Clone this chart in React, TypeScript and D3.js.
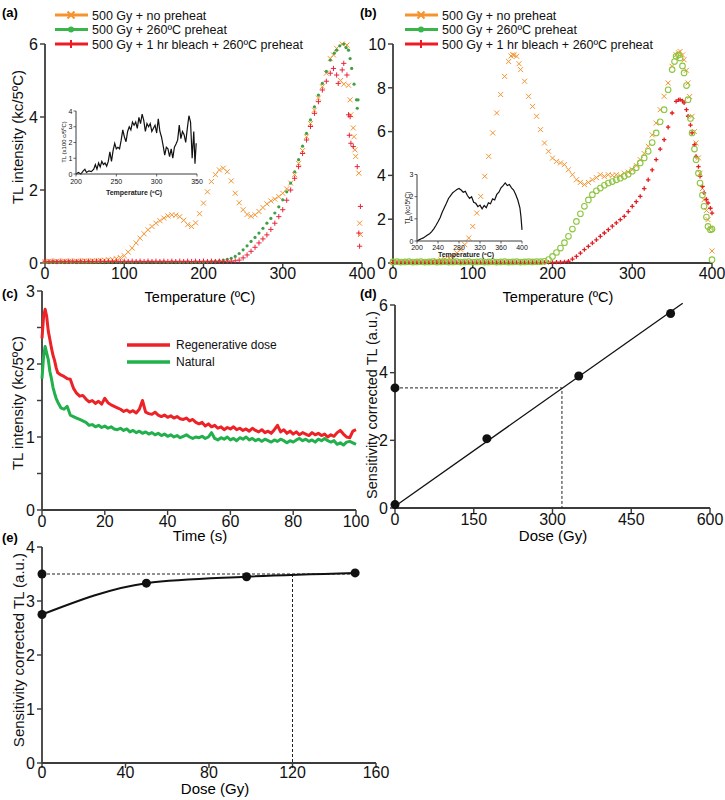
import React from "react";
import * as d3 from "d3";

type Pt = [number, number];

const FONT = "'Liberation Sans', Arial, Helvetica, sans-serif";
const AXIS = "#3c3c3c";
const ORANGE = "#f5932f";
const GREEN = "#3fa046";
const LIGHT_GREEN = "#8cc63f";
const RED = "#e8253a";

// ---- (a) glow curves: [temperature ºC, TL kc/5ºC]
const aNoPreheat: Pt[] = [
  [0, 0.04], [5, 0.05], [10, 0.04], [15, 0.05], [20, 0.04], [25, 0.05], [30, 0.05], [35, 0.04], [40, 0.05], [45, 0.05],
  [50, 0.06], [55, 0.05], [60, 0.06], [65, 0.06], [70, 0.07], [75, 0.08], [80, 0.09], [85, 0.1], [90, 0.12], [95, 0.15],
  [100, 0.2], [105, 0.3], [110, 0.41], [115, 0.55], [120, 0.68], [125, 0.8], [130, 0.91], [135, 1.0], [140, 1.09], [145, 1.16],
  [150, 1.23], [155, 1.29], [160, 1.32], [165, 1.31], [170, 1.27], [175, 1.17], [180, 1.05], [185, 1.0], [190, 1.1], [195, 1.35],
  [200, 1.64], [205, 1.95], [210, 2.23], [215, 2.42], [220, 2.55], [225, 2.6], [230, 2.5], [235, 2.25], [240, 1.91], [245, 1.65],
  [250, 1.46], [255, 1.33], [260, 1.28], [265, 1.32], [270, 1.41], [275, 1.52], [280, 1.62], [285, 1.7], [290, 1.75], [295, 1.82],
  [300, 1.91], [305, 2.03], [310, 2.19], [315, 2.42], [320, 2.73], [325, 3.08], [330, 3.46], [335, 3.82], [340, 4.19], [345, 4.52],
  [350, 4.83], [355, 5.2], [360, 5.6], [364, 5.7], [368, 5.88], [373, 5.0], [375, 6.0], [377, 4.9], [381, 5.97], [383, 4.87],
  [385, 4.47], [386, 4.06], [389, 3.7], [390, 3.46], [391, 3.1], [392, 2.92], [396, 2.46], [397, 1.09], [398, 0.78],
];
const aPreheat: Pt[] = [
  [0, 0.03], [5, 0.02], [10, 0.03], [15, 0.03], [20, 0.02], [25, 0.03], [30, 0.03], [35, 0.02], [40, 0.03], [45, 0.03],
  [50, 0.02], [55, 0.03], [60, 0.03], [65, 0.02], [70, 0.03], [75, 0.03], [80, 0.02], [85, 0.03], [90, 0.03], [95, 0.02],
  [100, 0.03], [105, 0.03], [110, 0.02], [115, 0.03], [120, 0.03], [125, 0.02], [130, 0.03], [135, 0.03], [140, 0.02], [145, 0.03],
  [150, 0.03], [155, 0.02], [160, 0.03], [165, 0.03], [170, 0.02], [175, 0.03], [180, 0.03], [185, 0.02], [190, 0.03], [195, 0.03],
  [200, 0.03], [205, 0.04], [210, 0.04], [215, 0.05], [220, 0.06], [225, 0.08], [230, 0.1], [235, 0.13], [240, 0.18], [245, 0.26],
  [250, 0.36], [255, 0.47], [260, 0.59], [265, 0.7], [270, 0.82], [275, 0.95], [280, 1.09], [285, 1.22], [290, 1.37], [295, 1.54],
  [300, 1.73], [305, 1.95], [310, 2.19], [315, 2.5], [320, 2.83], [325, 3.2], [330, 3.55], [335, 3.92], [340, 4.28], [345, 4.6],
  [350, 4.92], [355, 5.25], [360, 5.56], [365, 5.75], [368, 5.83], [372, 5.95], [377, 6.0], [380, 5.9], [383, 5.83], [385, 5.6],
  [387, 5.33], [390, 4.9], [393, 4.47], [394, 4.24], [395, 4.47],
];
const aBleach: Pt[] = [
  [0, 0.05], [5, 0.04], [10, 0.05], [15, 0.04], [20, 0.05], [25, 0.04], [30, 0.05], [35, 0.05], [40, 0.04], [45, 0.05],
  [50, 0.04], [55, 0.05], [60, 0.04], [65, 0.05], [70, 0.05], [75, 0.04], [80, 0.05], [85, 0.04], [90, 0.05], [95, 0.04],
  [100, 0.05], [105, 0.04], [110, 0.05], [115, 0.04], [120, 0.05], [125, 0.04], [130, 0.05], [135, 0.04], [140, 0.05], [145, 0.04],
  [150, 0.05], [155, 0.04], [160, 0.05], [165, 0.04], [170, 0.05], [175, 0.04], [180, 0.05], [185, 0.04], [190, 0.05], [195, 0.04],
  [200, 0.05], [205, 0.04], [210, 0.05], [215, 0.04], [220, 0.05], [225, 0.04], [230, 0.05], [235, 0.05], [240, 0.06], [245, 0.08],
  [250, 0.14], [255, 0.22], [260, 0.32], [265, 0.43], [270, 0.55], [275, 0.66], [280, 0.77], [285, 0.92], [290, 1.09], [295, 1.27],
  [300, 1.46], [305, 1.72], [310, 2.0], [315, 2.32], [320, 2.64], [325, 3.0], [330, 3.37], [335, 3.74], [340, 4.1], [345, 4.42],
  [350, 4.74], [355, 4.98], [360, 5.2], [364, 5.33], [368, 5.15], [370, 4.92], [375, 5.29], [377, 5.47], [381, 5.15], [383, 4.06],
  [384, 3.5], [385, 4.01], [386, 3.28], [389, 3.19], [394, 2.64], [396, 0.82], [397, 0.46], [398, 1.55],
];
// (a) inset: difference curve, TL x100 c/5ºC
const aInset: Pt[] = [
  [200, 0], [203, 0.1], [206, 0], [209, 0.2], [211, 0.3], [213, 0.1], [216, 0.2], [219, 0.15], [222, 0.3], [224, 0.6],
  [226, 0.3], [228, 0.7], [230, 0.45], [232, 0.8], [234, 0.6], [236, 0.7], [238, 0.5], [240, 0.8], [242, 1.4], [244, 0.8],
  [246, 1.5], [248, 1.95], [250, 1.6], [252, 1.7], [254, 1.6], [256, 2.15], [258, 2.8], [260, 2.35], [262, 2.05], [264, 2.7],
  [266, 3.0], [268, 2.8], [270, 3.3], [272, 3.1], [274, 3.3], [276, 2.9], [278, 3.6], [280, 3.2], [282, 3.8], [284, 3.4],
  [286, 2.7], [288, 3.2], [290, 3.0], [292, 3.2], [294, 2.7], [296, 2.9], [298, 3.1], [300, 2.6], [302, 3.5], [304, 2.7],
  [306, 2.35], [308, 1.8], [310, 1.2], [312, 1.7], [314, 1.6], [316, 1.1], [318, 1.6], [320, 1.0], [322, 1.7], [324, 1.9],
  [326, 2.15], [328, 3.1], [330, 2.25], [332, 2.7], [334, 2.5], [336, 2.0], [338, 2.9], [340, 3.7], [342, 3.3], [344, 1.0],
  [346, 2.7], [347.5, 0.65], [349, 1.95],
];

// ---- (b) glow curves
const bNoPreheat: Pt[] = [
  [0, 0.05], [5, 0.04], [10, 0.05], [15, 0.04], [20, 0.05], [25, 0.05], [30, 0.06], [35, 0.05], [40, 0.06], [45, 0.07],
  [50, 0.08], [55, 0.1], [60, 0.14], [65, 0.18], [70, 0.23], [75, 0.32], [80, 0.46], [85, 0.62], [90, 0.84], [95, 1.14],
  [100, 1.67], [105, 2.28], [110, 3.04], [115, 3.96], [120, 4.87], [125, 5.94], [130, 6.85], [135, 7.69], [140, 8.52], [145, 9.2],
  [148, 9.45], [150, 9.51], [152, 9.5], [155, 9.44], [158, 9.1], [160, 8.83], [165, 8.3], [170, 7.61], [175, 7.15], [180, 6.7],
  [185, 6.09], [190, 5.48], [195, 5.1], [200, 4.79], [205, 4.64], [210, 4.57], [215, 4.49], [220, 4.26], [225, 4.03], [230, 3.8],
  [235, 3.68], [240, 3.58], [245, 3.68], [250, 3.8], [255, 3.9], [260, 4.03], [265, 3.95], [270, 4.03], [275, 4.0], [280, 4.03],
  [285, 3.98], [290, 4.1], [295, 4.15], [300, 4.26], [305, 4.45], [310, 4.72], [315, 5.0], [320, 5.33], [325, 5.85], [330, 6.39],
  [335, 7.0], [340, 7.61], [345, 8.22], [350, 8.98], [355, 9.51], [358, 9.6], [360, 9.66], [363, 9.5], [365, 9.28], [368, 8.8],
  [370, 8.22], [372, 7.6], [375, 6.7], [378, 6.0], [380, 5.48], [383, 4.8], [385, 4.1], [388, 3.4], [390, 2.89], [393, 2.4],
  [395, 1.98], [398, 1.6], [400, 0.55],
];
const bPreheat: Pt[] = [
  [0, 0.05], [5, 0.06], [10, 0.04], [15, 0.05], [20, 0.06], [25, 0.04], [30, 0.05], [35, 0.06], [40, 0.04], [45, 0.05],
  [50, 0.06], [55, 0.04], [60, 0.05], [65, 0.06], [70, 0.04], [75, 0.05], [80, 0.06], [85, 0.04], [90, 0.05], [95, 0.06],
  [100, 0.04], [105, 0.05], [110, 0.06], [115, 0.04], [120, 0.05], [125, 0.06], [130, 0.04], [135, 0.05], [140, 0.06], [145, 0.04],
  [150, 0.05], [155, 0.06], [160, 0.04], [165, 0.05], [170, 0.06], [175, 0.05], [180, 0.06], [185, 0.06], [190, 0.08], [195, 0.16],
  [200, 0.3], [205, 0.48], [210, 0.68], [215, 0.93], [220, 1.22], [225, 1.55], [230, 1.9], [235, 2.25], [240, 2.59], [245, 2.88],
  [250, 3.12], [255, 3.3], [260, 3.42], [265, 3.55], [270, 3.65], [275, 3.72], [280, 3.8], [285, 3.87], [290, 3.96], [295, 4.05],
  [300, 4.19], [305, 4.35], [310, 4.57], [315, 4.8], [320, 5.1], [325, 5.5], [330, 5.94], [335, 6.45], [340, 7.0], [345, 7.91],
  [350, 8.83], [353, 9.2], [355, 9.44], [358, 9.5], [360, 9.36], [363, 9.0], [365, 8.68], [368, 8.1], [370, 7.46], [373, 6.6],
  [375, 5.94], [378, 5.2], [380, 4.72], [383, 4.1], [385, 3.65], [388, 3.1], [390, 2.59], [393, 2.1], [395, 1.67], [398, 1.52],
  [400, 1.55], [400, 0.15],
];
const bBleach: Pt[] = [
  [0, 0.03], [5, 0.02], [10, 0.03], [15, 0.03], [20, 0.02], [25, 0.03], [30, 0.03], [35, 0.02], [40, 0.03], [45, 0.03],
  [50, 0.02], [55, 0.03], [60, 0.03], [65, 0.02], [70, 0.03], [75, 0.03], [80, 0.02], [85, 0.03], [90, 0.03], [95, 0.02],
  [100, 0.03], [105, 0.03], [110, 0.02], [115, 0.03], [120, 0.03], [125, 0.02], [130, 0.03], [135, 0.03], [140, 0.02], [145, 0.03],
  [150, 0.03], [155, 0.02], [160, 0.03], [165, 0.03], [170, 0.02], [175, 0.03], [180, 0.03], [185, 0.02], [190, 0.03], [195, 0.03],
  [200, 0.03], [205, 0.04], [210, 0.04], [215, 0.05], [220, 0.08], [225, 0.18], [230, 0.3], [235, 0.45], [240, 0.61], [245, 0.76],
  [250, 0.91], [255, 1.06], [260, 1.22], [265, 1.37], [270, 1.52], [275, 1.68], [280, 1.83], [285, 1.98], [290, 2.13], [295, 2.35],
  [300, 2.59], [305, 2.8], [310, 3.04], [315, 3.4], [320, 3.8], [325, 4.25], [330, 4.72], [335, 5.2], [340, 5.63], [345, 6.2],
  [350, 6.85], [355, 7.38], [358, 7.45], [360, 7.46], [363, 7.4], [365, 7.31], [368, 7.0], [370, 6.7], [373, 6.3], [375, 5.94],
  [378, 5.4], [380, 4.87], [383, 4.4], [385, 3.96], [388, 3.5], [390, 3.2], [393, 2.9], [395, 2.74], [398, 2.5], [400, 2.28],
];
// (b) inset, kc/5ºC
const bInset: Pt[] = [
  [200, 0.0], [204, 0.05], [208, 0.1], [212, 0.14], [216, 0.2], [220, 0.27], [224, 0.33], [228, 0.42], [232, 0.55], [236, 0.7],
  [240, 0.87], [244, 1.05], [248, 1.3], [252, 1.5], [256, 1.7], [260, 1.92], [264, 2.05], [268, 2.18], [272, 2.25], [276, 2.32],
  [280, 2.37], [284, 2.3], [288, 2.2], [292, 2.24], [296, 2.05], [300, 1.92], [304, 2.0], [308, 1.75], [312, 1.7], [316, 1.55],
  [320, 1.62], [324, 1.45], [328, 1.6], [332, 1.5], [336, 1.72], [340, 1.68], [344, 1.9], [348, 1.85], [352, 2.1], [356, 2.2],
  [360, 2.4], [364, 2.5], [368, 2.62], [372, 2.5], [376, 2.55], [380, 2.4], [384, 2.3], [388, 2.1], [392, 1.85], [396, 1.5],
  [398, 1.1], [400, 0.5],
];

// ---- (c) isothermal decay: [time s, kc/5ºC]
const cRegen: Pt[] = [
  [0, 2.35], [0.5, 2.65], [1, 2.75], [1.5, 2.65], [2, 2.45], [2.5, 2.34], [3, 2.22], [3.5, 2.12], [4, 2.05], [4.5, 1.95],
  [5, 1.88], [6, 1.85], [7, 1.83], [8, 1.8], [9, 1.79], [10, 1.67], [11, 1.6], [12, 1.56], [13, 1.57], [14, 1.52],
  [15, 1.48], [16, 1.5], [17, 1.46], [18, 1.49], [19, 1.45], [20, 1.53], [21, 1.47], [22, 1.44], [23, 1.42], [24, 1.4],
  [25, 1.38], [26, 1.35], [27, 1.37], [28, 1.34], [29, 1.36], [30, 1.33], [31, 1.38], [32, 1.5], [33, 1.34], [34, 1.32],
  [35, 1.31], [36, 1.34], [37, 1.3], [38, 1.28], [39, 1.3], [40, 1.27], [41, 1.29], [42, 1.26], [43, 1.28], [44, 1.25],
  [45, 1.24], [46, 1.26], [47, 1.22], [48, 1.24], [49, 1.2], [50, 1.18], [51, 1.2], [52, 1.15], [53, 1.18], [54, 1.14],
  [55, 1.16], [56, 1.12], [57, 1.14], [58, 1.1], [59, 1.13], [60, 1.11], [61, 1.14], [62, 1.1], [63, 1.12], [64, 1.09],
  [65, 1.11], [66, 1.08], [67, 1.12], [68, 1.09], [69, 1.07], [70, 1.1], [71, 1.06], [72, 1.08], [73, 1.05], [74, 1.1],
  [75, 1.16], [76, 1.07], [77, 1.1], [78, 1.05], [79, 1.08], [80, 1.04], [81, 1.07], [82, 1.03], [83, 1.06], [84, 1.04],
  [85, 1.02], [86, 1.06], [87, 1.03], [88, 1.05], [89, 1.02], [90, 1.04], [91, 1.0], [92, 1.03], [93, 1.01], [94, 1.06],
  [95, 1.09], [96, 1.04], [97, 1.0], [98, 0.99], [99, 1.08], [100, 1.1],
];
const cNatural: Pt[] = [
  [0, 1.8], [0.5, 2.1], [1, 2.24], [1.5, 2.15], [2, 2.06], [2.5, 1.9], [3, 1.8], [3.5, 1.68], [4, 1.6], [4.5, 1.53],
  [5, 1.48], [6, 1.4], [7, 1.38], [8, 1.42], [9, 1.3], [10, 1.28], [11, 1.26], [12, 1.24], [13, 1.22], [14, 1.2],
  [15, 1.16], [16, 1.17], [17, 1.14], [18, 1.16], [19, 1.13], [20, 1.15], [21, 1.12], [22, 1.14], [23, 1.11], [24, 1.1],
  [25, 1.12], [26, 1.09], [27, 1.11], [28, 1.07], [29, 1.09], [30, 1.06], [31, 1.08], [32, 1.05], [33, 1.07], [34, 1.04],
  [35, 1.06], [36, 1.03], [37, 1.05], [38, 1.02], [39, 1.04], [40, 1.01], [41, 1.03], [42, 1.0], [43, 1.02], [44, 0.99],
  [45, 1.01], [46, 1.03], [47, 1.0], [48, 0.98], [49, 1.0], [50, 0.99], [51, 1.01], [52, 0.98], [53, 1.0], [54, 1.06],
  [55, 0.98], [56, 0.96], [57, 0.99], [58, 0.97], [59, 1.0], [60, 0.96], [61, 0.98], [62, 0.95], [63, 0.99], [64, 0.97],
  [65, 1.0], [66, 0.96], [67, 0.98], [68, 0.95], [69, 0.97], [70, 0.94], [71, 0.97], [72, 0.95], [73, 0.93], [74, 0.96],
  [75, 0.94], [76, 0.97], [77, 0.95], [78, 0.92], [79, 0.95], [80, 0.93], [81, 0.96], [82, 0.98], [83, 0.95], [84, 0.97],
  [85, 0.94], [86, 0.96], [87, 0.93], [88, 0.97], [89, 0.95], [90, 0.98], [91, 0.95], [92, 0.93], [93, 0.95], [94, 0.9],
  [95, 0.92], [96, 0.89], [97, 0.93], [98, 0.94], [99, 0.92], [100, 0.9],
];

// ---- (d) linear dose response
const dDose = [0, 175, 350, 525];
const dTL = [0.1, 2.05, 3.9, 5.75];
const dFitDose = [0, 548];
const dFitTL = [0.05, 6.05];
const dNatural = 3.55;
const dED = 318;

// ---- (e) saturating dose response
const eDose = [0, 50, 98, 150];
const eTL = [2.75, 3.33, 3.45, 3.52];
const eNatural = 3.5;
const eED = 120;

const glowLegend = ["500 Gy + no preheat", "500 Gy + 260ºC preheat", "500 Gy + 1 hr bleach + 260ºC preheat"];
const decayLegend = ["Regenerative dose", "Natural"];

type S = d3.ScaleLinear<number, number>;

const YAxis = ({ y, x, ticks, minor = [], fs = 16, len = 5, sw = 1.8, gap = 2 }: { y: S; x: number; ticks: number[]; minor?: number[]; fs?: number; len?: number; sw?: number; gap?: number }) => {
  const [a, b] = y.range();
  return (
    <g>
      <line x1={x} x2={x} y1={a} y2={b} stroke={AXIS} strokeWidth={sw} />
      {[...ticks, ...minor].map((t) => (
        <line key={"t" + t} x1={x - len} x2={x} y1={y(t)} y2={y(t)} stroke={AXIS} strokeWidth={sw * 0.8} />
      ))}
      {ticks.map((t) => (
        <text key={t} x={x - len - gap} y={y(t)} dy="0.36em" textAnchor="end" fontSize={fs} fill="#111">
          {t}
        </text>
      ))}
    </g>
  );
};

const XAxis = ({ xs, y, ticks, fs = 16, len = 5, sw = 1.8, off = 16 }: { xs: S; y: number; ticks: number[]; fs?: number; len?: number; sw?: number; off?: number }) => {
  const [a, b] = xs.range();
  return (
    <g>
      <line x1={a} x2={b} y1={y} y2={y} stroke={AXIS} strokeWidth={sw} />
      {ticks.map((t) => (
        <g key={t}>
          <line x1={xs(t)} x2={xs(t)} y1={y} y2={y + len} stroke={AXIS} strokeWidth={sw * 0.8} />
          <text x={xs(t)} y={y + off} textAnchor="middle" fontSize={fs} fill="#111">
            {t}
          </text>
        </g>
      ))}
    </g>
  );
};

const Cross = ({ x, y, s, c, w = 1 }: { x: number; y: number; s: number; c: string; w?: number }) => (
  <path d={`M${x - s},${y - s}L${x + s},${y + s}M${x - s},${y + s}L${x + s},${y - s}`} stroke={c} strokeWidth={w} fill="none" />
);
const Plus = ({ x, y, s, c, w = 1 }: { x: number; y: number; s: number; c: string; w?: number }) => (
  <path d={`M${x - s},${y}H${x + s}M${x},${y - s}V${y + s}`} stroke={c} strokeWidth={w} fill="none" />
);

const Legend = ({ x, y, dy }: { x: number; y: number; dy: number }) => (
  <g>
    {glowLegend.map((label, i) => {
      const c = [ORANGE, "#39b54a", "#ed1c24"][i];
      const yy = y + i * dy;
      const mx = x + 16;
      return (
        <g key={label}>
          <line x1={x} x2={x + 33} y1={yy} y2={yy} stroke={c} strokeWidth={3} />
          {i === 0 && <Cross x={mx} y={yy} s={3.5} c={c} w={2} />}
          {i === 1 && <circle cx={mx} cy={yy} r={3} fill={c} />}
          {i === 2 && <Plus x={mx} y={yy} s={4} c={c} w={2} />}
          <text x={x + 37} y={yy} dy="0.36em" fontSize={12.5} fill="#111">
            {label}
          </text>
        </g>
      );
    })}
  </g>
);

const YTitle = ({ x, y, text, fs = 15 }: { x: number; y: number; text: string; fs?: number }) => (
  <text transform={`translate(${x},${y}) rotate(-90)`} textAnchor="middle" fontSize={fs} fill="#111">
    {text}
  </text>
);

export default function App() {
  // panel scales
  const xA = d3.scaleLinear().domain([0, 400]).range([45, 362]);
  const yA = d3.scaleLinear().domain([0, 6]).range([263, 44]);
  const xAi = d3.scaleLinear().domain([200, 350]).range([76, 197]);
  const yAi = d3.scaleLinear().domain([0, 4]).range([174, 111]);
  const xB = d3.scaleLinear().domain([0, 400]).range([393, 712]);
  const yB = d3.scaleLinear().domain([0, 10]).range([263, 44]);
  const xBi = d3.scaleLinear().domain([200, 400]).range([417, 522]);
  const yBi = d3.scaleLinear().domain([0, 3]).range([241, 174.5]);
  const xC = d3.scaleLinear().domain([0, 100]).range([42, 356]);
  const yC = d3.scaleLinear().domain([0, 3]).range([510, 291]);
  const xD = d3.scaleLinear().domain([0, 600]).range([395, 710]);
  const yD = d3.scaleLinear().domain([0, 6]).range([508, 305]);
  const xE = d3.scaleLinear().domain([0, 160]).range([42, 376]);
  const yE = d3.scaleLinear().domain([0, 4]).range([763, 547]);

  const lineOf = (xs: S, ys: S) => d3.line<Pt>().x((d) => xs(d[0])).y((d) => ys(d[1]));
  const eCurve = d3
    .line<number>()
    .x((d) => xE(d))
    .y((_, i) => yE(eTL[i]))
    .curve(d3.curveMonotoneX);

  return (
    <svg width={725} height={800} style={{ position: "absolute", left: 0, top: 0, background: "#fff" }} fontFamily={FONT}>
      {/* ---------- (a) ---------- */}
      <text x={2} y={17} fontSize={13} fontWeight="bold">(a)</text>
      <Legend x={55} y={15} dy={14.5} />
      <YAxis y={yA} x={45} ticks={[0, 2, 4, 6]} />
      <XAxis xs={xA} y={263} ticks={[0, 100, 200, 300, 400]} />
      <text x={200} y={302} textAnchor="middle" fontSize={14.5}>Temperature (ºC)</text>
      <YTitle x={23} y={137} text="TL intensity (kc/5ºC)" />
      {aNoPreheat.map((d, i) => <Cross key={"ao" + i} x={xA(d[0])} y={yA(d[1])} s={2.5} c={ORANGE} />)}
      {aPreheat.map((d, i) => <circle key={"ag" + i} cx={xA(d[0])} cy={yA(d[1])} r={1.6} fill={GREEN} />)}
      {aBleach.map((d, i) => <Plus key={"ar" + i} x={xA(d[0])} y={yA(d[1])} s={2.6} c={RED} />)}
      {/* inset (a) */}
      <path d={lineOf(xAi, yAi)(aInset) || ""} fill="none" stroke="#111" strokeWidth={1.2} />
      <YAxis y={yAi} x={76} ticks={[0, 1, 2, 3, 4]} fs={7} len={2.5} sw={1} gap={1} />
      <XAxis xs={xAi} y={174} ticks={[200, 250, 300, 350]} fs={7} len={2.5} sw={1} off={10} />
      <text x={134} y={195} textAnchor="middle" fontSize={7} fontWeight="bold" fill="#222">Temperature (ºC)</text>
      <YTitle x={66} y={142} text="TL (x100 c/5ºC)" fs={6} />

      {/* ---------- (b) ---------- */}
      <text x={360} y={17} fontSize={13} fontWeight="bold">(b)</text>
      <Legend x={405} y={15} dy={14.5} />
      <YAxis y={yB} x={393} ticks={[0, 2, 4, 6, 8, 10]} />
      <XAxis xs={xB} y={263} ticks={[0, 100, 200, 300, 400]} />
      <text x={558} y={302} textAnchor="middle" fontSize={14.5}>Temperature (ºC)</text>
      {bNoPreheat.map((d, i) => <Cross key={"bo" + i} x={xB(d[0])} y={yB(d[1])} s={2.5} c={ORANGE} />)}
      {bBleach.map((d, i) => <Plus key={"br" + i} x={xB(d[0])} y={yB(d[1])} s={2.2} c="#e31e24" w={1.3} />)}
      {bPreheat.map((d, i) => <circle key={"bg" + i} cx={xB(d[0])} cy={yB(d[1])} r={2.8} fill="none" stroke={LIGHT_GREEN} strokeWidth={1.1} />)}
      {/* inset (b) */}
      <path d={lineOf(xBi, yBi)(bInset) || ""} fill="none" stroke="#111" strokeWidth={1.2} />
      <YAxis y={yBi} x={417} ticks={[0, 1, 2, 3]} fs={7} len={2.5} sw={1} gap={1} />
      <XAxis xs={xBi} y={241} ticks={[200, 240, 280, 320, 360, 400]} fs={7} len={2.5} sw={1} off={9} />
      <text x={466} y={257} textAnchor="middle" fontSize={7} fontWeight="bold" fill="#222">Temperature (ºC)</text>
      <YTitle x={410} y={208} text="TL (kc/5ºC)" fs={6.5} />

      {/* ---------- (c) ---------- */}
      <text x={2} y={298} fontSize={13} fontWeight="bold">(c)</text>
      <YAxis y={yC} x={42} ticks={[0, 1, 2, 3]} minor={[0.5, 1.5, 2.5]} />
      <XAxis xs={xC} y={510} ticks={[0, 20, 40, 60, 80, 100]} off={17} />
      <text x={200} y={541} textAnchor="middle" fontSize={15}>Time (s)</text>
      <YTitle x={23} y={403} text="TL intensity (kc/5ºC)" />
      <path d={lineOf(xC, yC)(cNatural) || ""} fill="none" stroke="#21b04b" strokeWidth={3} strokeLinejoin="round" />
      <path d={lineOf(xC, yC)(cRegen) || ""} fill="none" stroke="#ec2227" strokeWidth={3} strokeLinejoin="round" />
      {decayLegend.map((label, i) => (
        <g key={label}>
          <line x1={127} x2={170} y1={345 + i * 17} y2={345 + i * 17} stroke={i === 0 ? "#ec2227" : "#21b04b"} strokeWidth={3.5} />
          <text x={176} y={345 + i * 17} dy="0.36em" fontSize={12} fill="#111">{label}</text>
        </g>
      ))}

      {/* ---------- (d) ---------- */}
      <text x={360} y={298} fontSize={13} fontWeight="bold">(d)</text>
      <YAxis y={yD} x={395} ticks={[0, 2, 4, 6]} />
      <XAxis xs={xD} y={508} ticks={[0, 150, 300, 450, 600]} off={17} />
      <text x={553} y={541} textAnchor="middle" fontSize={15}>Dose (Gy)</text>
      <YTitle x={377} y={405} text="Sensitivity corrected TL (a.u.)" fs={14.5} />
      <line x1={xD(dFitDose[0])} x2={xD(dFitDose[1])} y1={yD(dFitTL[0])} y2={yD(dFitTL[1])} stroke="#111" strokeWidth={1.3} />
      <path d={`M${xD(0)},${yD(dNatural)}H${xD(dED)}V${yD(0)}`} fill="none" stroke="#222" strokeWidth={1} strokeDasharray="3,2" />
      {dDose.map((d, i) => <circle key={"d" + i} cx={xD(d)} cy={yD(dTL[i])} r={4.5} fill="#111" />)}
      <circle cx={xD(0)} cy={yD(dNatural)} r={4.5} fill="#111" />

      {/* ---------- (e) ---------- */}
      <text x={2} y={542} fontSize={13} fontWeight="bold">(e)</text>
      <YAxis y={yE} x={42} ticks={[0, 1, 2, 3, 4]} />
      <XAxis xs={xE} y={763} ticks={[0, 40, 80, 120, 160]} off={15} />
      <text x={215} y={794} textAnchor="middle" fontSize={15}>Dose (Gy)</text>
      <YTitle x={24} y={650} text="Sensitivity corrected TL (a.u.)" />
      <path d={`M${xE(0)},${yE(eNatural)}H${xE(eDose[eDose.length - 1])}M${xE(eED)},${yE(eNatural)}V${yE(0)}`} fill="none" stroke="#222" strokeWidth={1} strokeDasharray="3,2" />
      <path d={eCurve(eDose) || ""} fill="none" stroke="#111" strokeWidth={2} />
      {eDose.map((d, i) => <circle key={"e" + i} cx={xE(d)} cy={yE(eTL[i])} r={4.5} fill="#111" />)}
      <circle cx={xE(0)} cy={yE(eNatural)} r={4.5} fill="#111" />
    </svg>
  );
}
